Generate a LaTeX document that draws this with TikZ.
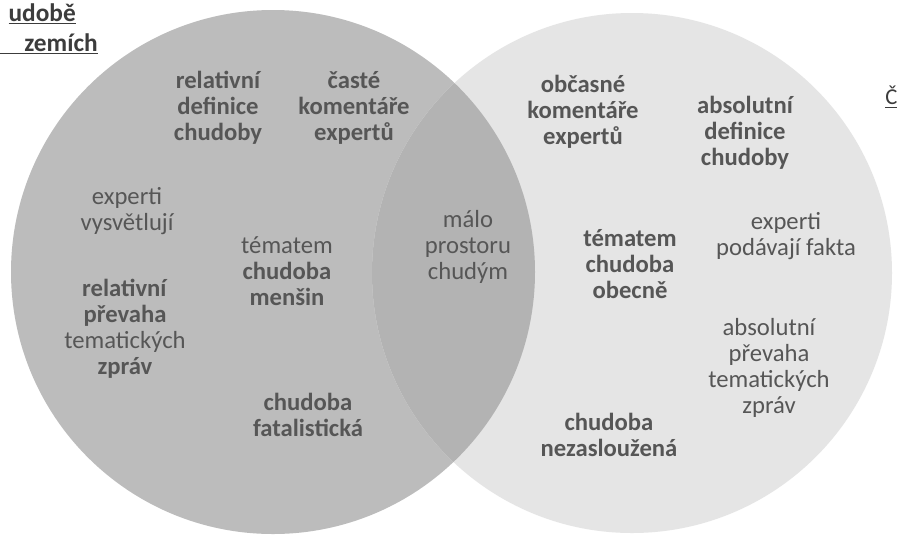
\documentclass[tikz,border=0pt]{standalone}
\usepackage{fontspec}
\setmainfont{Carlito}
\usepackage{xcolor}
\usetikzlibrary{positioning}
\definecolor{leftcol}{RGB}{188,188,188}
\definecolor{rightcol}{RGB}{229,229,229}
\definecolor{bothcol}{RGB}{179,179,179}
\definecolor{textcol}{RGB}{86,86,86}
\definecolor{headcol}{RGB}{60,60,60}
\tikzset{
  term/.style={align=center,text=textcol,inner sep=0pt,
    font=\fontsize{18.5}{19.5}\selectfont},
  keyterm/.style={term,font=\fontsize{18.5}{19.5}\selectfont\bfseries},
  heading/.style={inner sep=0pt,text=headcol,
    font=\fontsize{19}{20}\selectfont\bfseries}
}

\begin{document}
\begin{tikzpicture}[x=0.75pt,y=-0.75pt]
  \useasboundingbox (0,0) rectangle (897,537);
  \fill[white] (0,0) rectangle (897,537);

  % the two sets
  \fill[leftcol] (273,272) circle[radius=262];
  \fill[rightcol] (632,273) circle[radius=260];
  \begin{scope}
    \clip (273,272) circle[radius=262];
    \fill[bothcol] (632,273) circle[radius=260];
  \end{scope}

  % headings, cut at the page edge
  \node[heading,anchor=east] (headA) at (76,14) {\underline{udobě}};
  \node[heading,anchor=east] (headB) at (98,44) {\underline{\hspace{40pt}zemích}};
  \node[heading,anchor=west,font=\fontsize{17}{18}\selectfont] (headC) at (885,97)
    {\underline{Č}};

  % left set
  \node[keyterm] (relDef) at (218,108) {relativní\\definice\\chudoby};
  \node[keyterm] (oftenExp) at (354,108) {časté\\komentáře\\expertů};
  \node[term] (expExplain) at (127,211) {experti\\vysvětlují};
  \node[term] (topicMin) at (287,271) {tématem\\\textbf{chudoba}\\\textbf{menšin}};
  \node[term] (relShare) at (125,329)
    {\textbf{relativní}\\\textbf{převaha}\\tematických\\\textbf{zpráv}};
  \node[keyterm] (fatal) at (308,415) {chudoba\\fatalistická};

  % overlap
  \node[term] (fewSpace) at (468,247) {málo\\prostoru\\chudým};

  % right set
  \node[keyterm] (rareExp) at (583,112) {občasné\\komentáře\\expertů};
  \node[keyterm] (absDef) at (745,133) {absolutní\\definice\\chudoby};
  \node[term] (expFacts) at (786,236) {experti\\podávají fakta};
  \node[keyterm] (topicGen) at (630,264) {tématem\\chudoba\\obecně};
  \node[term] (absShare) at (769,368) {absolutní\\převaha\\tematických\\zpráv};
  \node[keyterm] (undeserved) at (609,435) {chudoba\\nezasloužená};
\end{tikzpicture}
\end{document}
